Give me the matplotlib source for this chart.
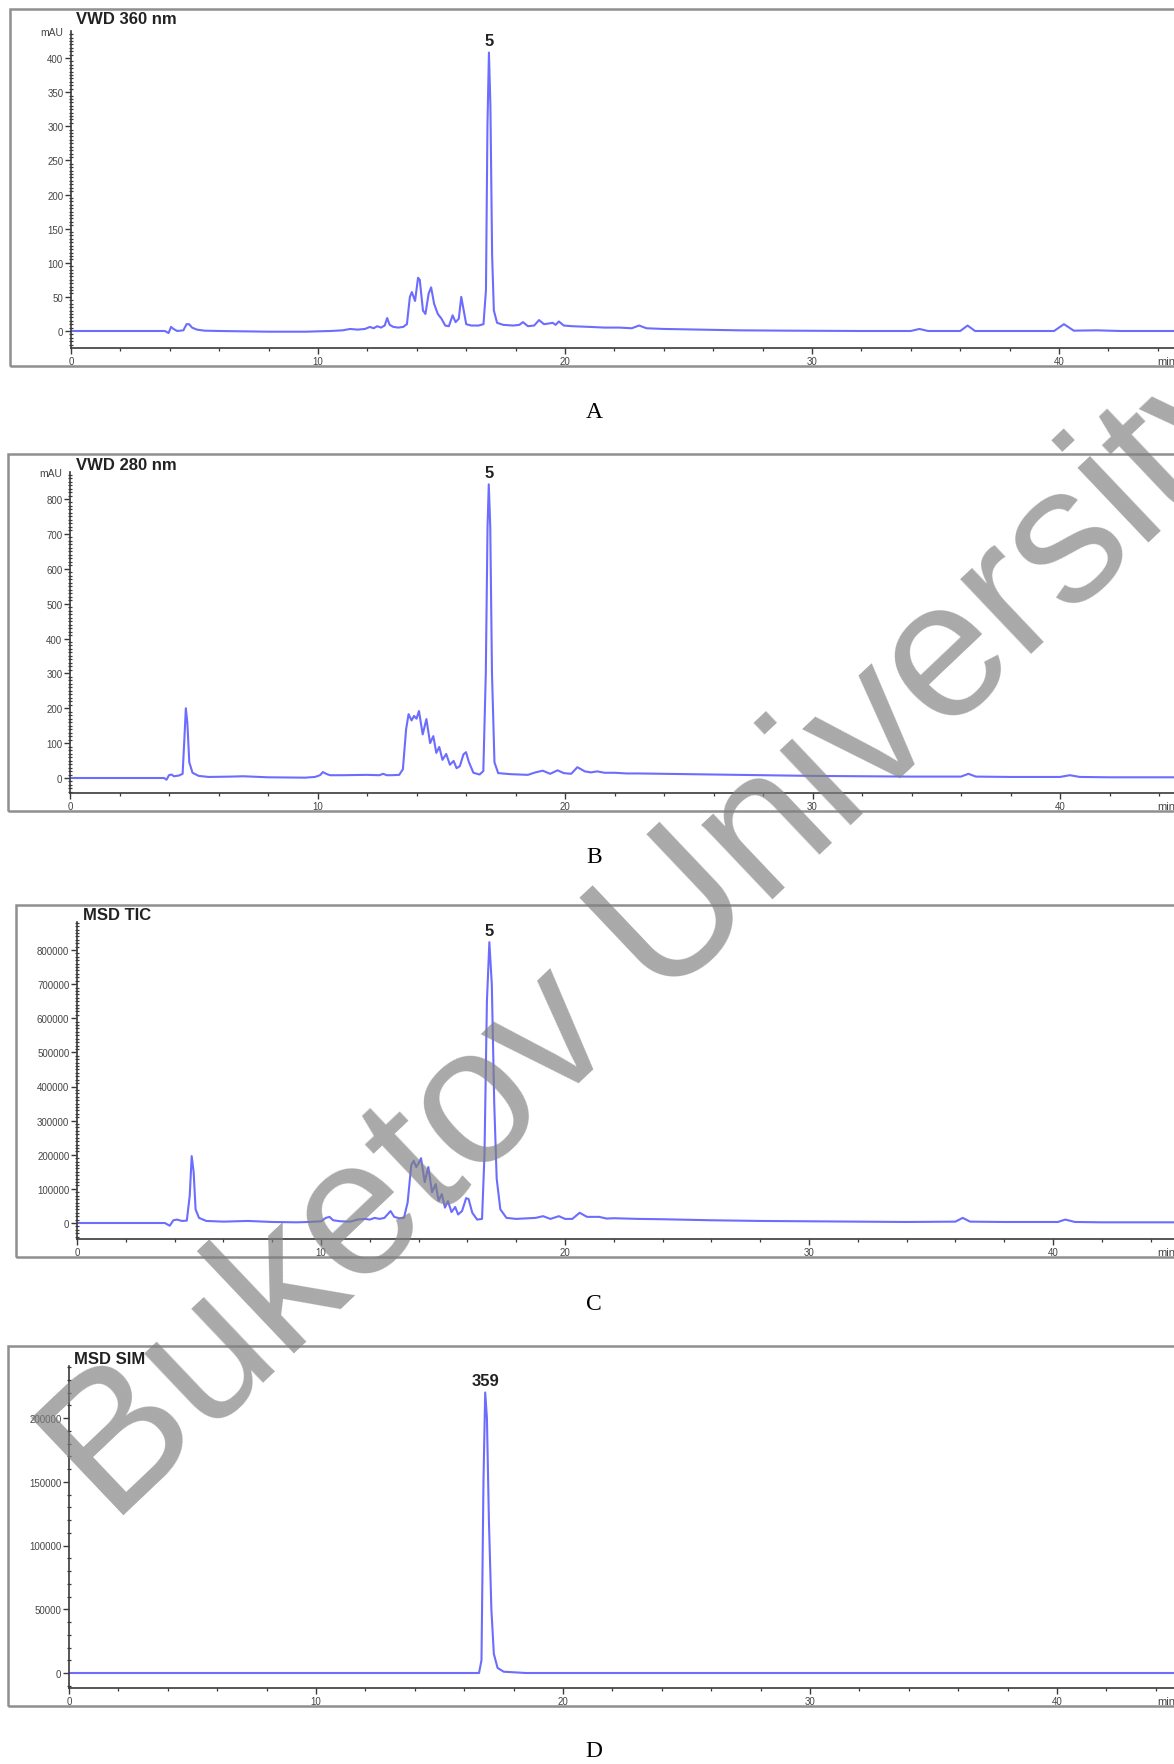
import numpy as np
import matplotlib
matplotlib.use("Agg")
import matplotlib.pyplot as plt
from matplotlib.patches import Rectangle
from matplotlib.ticker import MultipleLocator, FormatStrFormatter

plt.rcParams['font.family'] = ['Liberation Sans', 'DejaVu Sans']

W, H = 1174, 1765

# chromatogram traces: (time [min], signal)
a_points = np.array([
    (0, 0), (3.8, 0), (3.95, -3), (4.05, 6), (4.15, 3), (4.3, 0), (4.55, 1), (4.68, 10),
    (4.78, 10), (4.9, 5), (5.1, 2), (5.4, 0.5), (6.0, 0), (8.0, -1), (9.5, -1), (10.5, 0),
    (11.0, 1), (11.3, 3), (11.6, 2), (11.9, 3), (12.1, 6), (12.25, 4), (12.4, 7), (12.55, 5),
    (12.7, 8), (12.8, 19), (12.9, 9), (13.05, 6), (13.25, 5), (13.45, 6), (13.6, 10),
    (13.72, 50), (13.8, 57), (13.93, 44), (14.05, 78), (14.12, 75), (14.25, 30), (14.35, 25),
    (14.48, 55), (14.58, 64), (14.7, 40), (14.85, 25), (15.0, 18), (15.15, 8), (15.3, 7),
    (15.45, 23), (15.57, 13), (15.7, 18), (15.8, 50), (15.9, 30), (16.0, 10), (16.2, 8),
    (16.5, 8), (16.7, 10), (16.8, 60), (16.86, 300), (16.92, 408), (16.98, 330), (17.05, 110),
    (17.12, 30), (17.25, 12), (17.5, 9), (17.9, 8), (18.15, 9), (18.3, 13), (18.5, 7),
    (18.75, 8), (18.95, 16), (19.15, 10), (19.35, 11), (19.5, 12), (19.62, 9), (19.75, 14),
    (19.95, 8), (20.3, 7), (21.0, 6), (21.6, 5), (22.2, 5), (22.7, 4), (23.0, 8), (23.3, 4),
    (24.0, 3), (25.5, 2), (27.0, 1), (29.0, 0.5), (32.0, 0), (34.0, 0), (34.35, 3), (34.7, 0),
    (36.0, 0), (36.3, 8), (36.6, 0), (39.8, 0), (40.2, 10), (40.6, 0.5), (41.5, 1), (42.5, 0),
    (45, 0),
])

b_points = np.array([
    (0, 0), (3.8, 0), (3.9, -5), (4.0, 8), (4.1, 10), (4.2, 5), (4.4, 7), (4.55, 12),
    (4.62, 110), (4.68, 200), (4.74, 160), (4.82, 45), (4.95, 15), (5.2, 6), (5.6, 3),
    (6.5, 4), (7.0, 5), (8.0, 2), (9.5, 1), (9.9, 3), (10.1, 8), (10.22, 17), (10.35, 12),
    (10.5, 8), (11.0, 8), (12.0, 9), (12.5, 8), (12.65, 12), (12.8, 8), (13.0, 8), (13.3, 9),
    (13.45, 25), (13.58, 140), (13.68, 183), (13.8, 165), (13.9, 178), (14.0, 170),
    (14.1, 192), (14.25, 125), (14.4, 169), (14.55, 100), (14.68, 120), (14.8, 72),
    (14.92, 89), (15.05, 52), (15.2, 69), (15.35, 38), (15.5, 49), (15.62, 28), (15.75, 34),
    (15.9, 68), (16.0, 74), (16.12, 45), (16.3, 15), (16.55, 10), (16.7, 20), (16.8, 300),
    (16.87, 720), (16.92, 842), (16.98, 720), (17.05, 300), (17.15, 45), (17.3, 14),
    (17.8, 11), (18.5, 9), (18.8, 16), (19.1, 21), (19.4, 12), (19.7, 22), (19.95, 14),
    (20.25, 12), (20.5, 31), (20.8, 19), (21.05, 16), (21.3, 19), (21.6, 15), (22.0, 15),
    (22.5, 13), (23.0, 13), (24.0, 12), (25.0, 11), (26.0, 10), (28.0, 8), (30.0, 6),
    (32.0, 5), (34.0, 4), (36.0, 4), (36.3, 12), (36.6, 4), (38.0, 3), (40.0, 3),
    (40.4, 8), (40.8, 3), (42.0, 2), (45, 2),
])

c_points = np.array([
    (0, 0), (3.6, 0), (3.8, -8000), (3.95, 8000), (4.1, 10000), (4.3, 6000), (4.5, 7000),
    (4.62, 80000), (4.7, 196000), (4.78, 150000), (4.86, 40000), (5.0, 15000), (5.3, 6000),
    (6.0, 4000), (7.0, 6000), (8.0, 3000), (9.0, 2000), (9.5, 3000), (10.0, 5000),
    (10.2, 15000), (10.35, 18000), (10.5, 8000), (10.8, 5000), (11.2, 4000), (11.5, 10000),
    (11.8, 12000), (12.0, 10000), (12.2, 15000), (12.4, 12000), (12.6, 15000),
    (12.85, 35000), (13.0, 18000), (13.2, 14000), (13.4, 15000), (13.55, 60000),
    (13.7, 170000), (13.8, 182000), (13.9, 164000), (14.0, 175000), (14.1, 190000),
    (14.25, 120000), (14.4, 164000), (14.55, 90000), (14.7, 114000), (14.82, 65000),
    (14.95, 85000), (15.08, 45000), (15.2, 64000), (15.35, 32000), (15.5, 47000),
    (15.62, 25000), (15.78, 35000), (15.95, 73000), (16.05, 70000), (16.2, 30000),
    (16.4, 10000), (16.6, 12000), (16.7, 200000), (16.8, 650000), (16.9, 823000),
    (17.0, 700000), (17.1, 350000), (17.2, 130000), (17.35, 40000), (17.6, 15000),
    (18.0, 12000), (18.8, 15000), (19.1, 20000), (19.4, 12000), (19.75, 20000),
    (20.0, 12000), (20.3, 12000), (20.6, 30000), (20.9, 18000), (21.4, 18000),
    (21.7, 13000), (22.0, 14000), (23.0, 12000), (24.0, 11000), (26.0, 8000), (28.0, 6000),
    (30.0, 5000), (32.0, 4000), (34.0, 3000), (36.0, 4000), (36.3, 15000), (36.6, 4000),
    (38.0, 3000), (40.2, 3000), (40.5, 10000), (40.9, 3000), (42.0, 2000), (45, 2000),
])

d_points = np.array([
    (0, 0), (16.6, 0), (16.7, 10000), (16.78, 150000), (16.85, 220000), (16.92, 200000),
    (17.0, 120000), (17.1, 50000), (17.2, 15000), (17.35, 4000), (17.6, 1000), (18.5, 0),
    (45, 0),
])

titles = ['VWD 360 nm', 'VWD 280 nm', 'MSD TIC', 'MSD SIM']
units = ['mAU', 'mAU', '', '']
peak_labels = ['5', '5', '5', '359']
panel_letters = ['A', 'B', 'C', 'D']
y_major = [50, 100, 100000, 50000]
y_minor = [5, 10, 10000, 10000]

# layout in pixels: y-axis x, x-axis y, y-axis top, zero y, px per unit, px per min,
# frame left/top/bottom, title pos, letter y
layout = [
    dict(x0=71, xaxis=349, top=32, zero=332, sy=273 / 400, sx=24.7,
         fl=10, ft=10, fb=367, tx=76, ty=20, ly=412),
    dict(x0=70, xaxis=794, top=473, zero=779, sy=279 / 800, sx=24.75,
         fl=8, ft=455, fb=812, tx=76, ty=465, ly=858),
    dict(x0=77, xaxis=1240, top=923, zero=1224, sy=273 / 800000, sx=24.4,
         fl=16, ft=906, fb=1258, tx=83, ty=916, ly=1305),
    dict(x0=69, xaxis=1689, top=1367, zero=1674, sy=255 / 200000, sx=24.7,
         fl=8, ft=1347, fb=1707, tx=74, ty=1360, ly=1752),
]

traces = [a_points, b_points, c_points, d_points]

fig = plt.figure(figsize=(W / 100, H / 100), dpi=100)

line_color = '#5c5cff'
text_color = '#454545'

for i, (pts, lay) in enumerate(zip(traces, layout)):
    # frame around each chromatogram
    fr = Rectangle((lay['fl'] / W, 1 - lay['fb'] / H), (W + 30 - lay['fl']) / W,
                   (lay['fb'] - lay['ft']) / H, transform=fig.transFigure,
                   fill=False, ec='#8f8f8f', lw=1.8)
    fig.add_artist(fr)

    ax = fig.add_axes([lay['x0'] / W, 1 - lay['xaxis'] / H,
                       (W - lay['x0']) / W, (lay['xaxis'] - lay['top']) / H])
    ax.set_xlim(0, (W - lay['x0']) / lay['sx'])
    ax.set_ylim(-(lay['xaxis'] - lay['zero']) / lay['sy'], (lay['zero'] - lay['top']) / lay['sy'])
    ax.patch.set_alpha(0)
    ax.plot(pts[:, 0], pts[:, 1], color=line_color, lw=1.5, alpha=0.9, solid_joinstyle='round')

    for sp in ['top', 'right']:
        ax.spines[sp].set_visible(False)
    for sp in ['left', 'bottom']:
        ax.spines[sp].set_color('#3a3a3a')
        ax.spines[sp].set_linewidth(1.2)

    ax.xaxis.set_major_locator(MultipleLocator(10))
    ax.xaxis.set_minor_locator(MultipleLocator(2))
    ax.yaxis.set_major_locator(MultipleLocator(y_major[i]))
    ax.yaxis.set_minor_locator(MultipleLocator(y_minor[i]))
    ax.yaxis.set_major_formatter(FormatStrFormatter('%d'))
    ax.xaxis.set_major_formatter(FormatStrFormatter('%d'))
    ax.tick_params(axis='both', which='major', length=4, width=1, color='#3a3a3a',
                   labelsize=7, labelcolor=text_color, pad=1.5)
    ax.tick_params(axis='both', which='minor', length=2.5, width=0.9, color='#3a3a3a')
    ax.tick_params(axis='y', which='minor', direction='inout', length=3)

    # peak label above the main peak
    k = np.argmax(pts[:, 1])
    ax.annotate(peak_labels[i], xy=(pts[k, 0], pts[k, 1]), xytext=(0, 3),
                textcoords='offset points', ha='center', va='bottom',
                fontsize=12, fontweight='bold', color='#222222')

    fig.text(lay['tx'] / W, 1 - lay['ty'] / H, titles[i], fontsize=12, fontweight='bold',
             color='#222222', ha='left', va='center')
    if units[i]:
        fig.text((lay['x0'] - 8) / W, 1 - (lay['top'] + 1) / H, units[i], fontsize=7.5,
                 color=text_color, ha='right', va='center')
    fig.text(1157 / W, 1 - (lay['xaxis'] + 13) / H, 'min', fontsize=8,
             color=text_color, ha='left', va='center')
    fig.text(594 / W, 1 - lay['ly'] / H, panel_letters[i], fontsize=17,
             family='Liberation Serif', ha='center', va='center')

# repository watermark
fig.text(662 / W, 1 - 935 / H, 'Buketov University', fontsize=140,
         rotation=43.5, rotation_mode='anchor', ha='center', va='center',
         color='#808080', alpha=0.68)

fig.savefig('out.png', dpi=100)
